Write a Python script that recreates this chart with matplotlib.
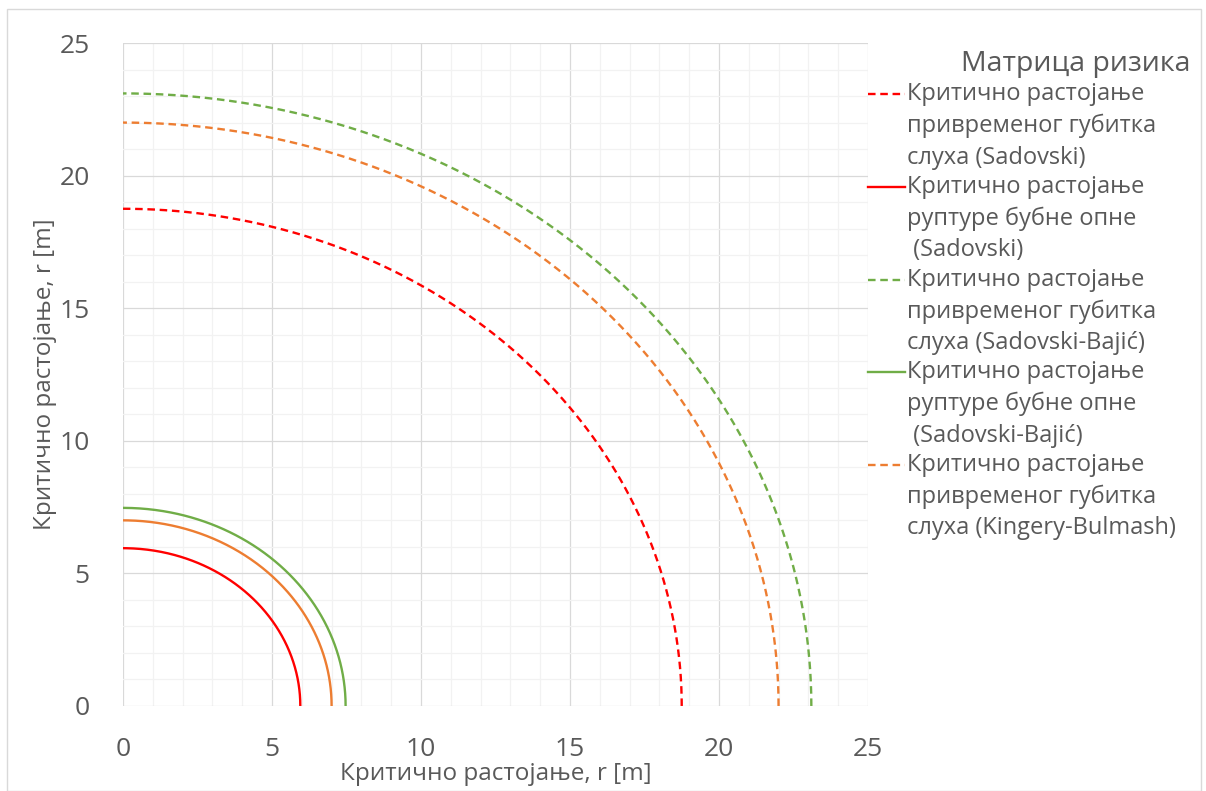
import numpy as np
import matplotlib
matplotlib.use("Agg")
import matplotlib.pyplot as plt
from matplotlib.lines import Line2D
from matplotlib.patches import Rectangle

plt.rcParams['font.family'] = ['Open Sans', 'DejaVu Sans']

# критична растојања [m]
radii = [18.75, 5.95, 23.1, 7.47, 22.0, 7.0]
colors = ['#FF0000', '#FF0000', '#70AD47', '#70AD47', '#ED7D31', '#ED7D31']
dashed = [True, False, True, False, True, False]
labels = [
    "Критично растојање\nпривременог губитка\nслуха (Sadovski)",
    "Критично растојање\nруптуре бубне опне\n (Sadovski)",
    "Критично растојање\nпривременог губитка\nслуха (Sadovski-Bajić)",
    "Критично растојање\nруптуре бубне опне\n (Sadovski-Bajić)",
    "Критично растојање\nпривременог губитка\nслуха (Kingery-Bulmash)",
    None,
]
ticks = [0, 5, 10, 15, 20, 25]
grey = '#595959'

fig = plt.figure(figsize=(12.06, 7.91), dpi=100)
fig.patches.append(Rectangle((0.006, 0.0), 0.99, 0.988, transform=fig.transFigure,
                             fill=False, edgecolor='#D9D9D9', linewidth=1))
ax = fig.add_axes([0.102, 0.1075, 0.6177, 0.8381])

phi = np.linspace(0, np.pi / 2, 400)
for r, c, d in zip(radii, colors, dashed):
    ls = (0, (3.2, 2)) if d else '-'
    ax.plot(r * np.cos(phi), r * np.sin(phi), color=c, lw=1.7, linestyle=ls)

ax.set_xlim(0, 25)
ax.set_ylim(0, 25)
ax.set_xticks(ticks)
ax.set_yticks(ticks)
ax.set_xticks(np.arange(0, 26, 1), minor=True)
ax.set_yticks(np.arange(0, 26, 1), minor=True)
ax.grid(True, which='major', color='#D9D9D9', lw=0.9)
ax.grid(True, which='minor', color='#F2F2F2', lw=0.9)
ax.set_axisbelow(True)
for s in ax.spines.values():
    s.set_visible(False)
ax.tick_params(which='both', length=0, labelsize=19, labelcolor=grey)
ax.tick_params(axis='x', pad=22)
ax.tick_params(axis='y', pad=24)
ax.set_xlabel("Критично растојање, r [m]", fontsize=17.5, color=grey, labelpad=0)
ax.set_ylabel("Критично растојање, r [m]", fontsize=17.5, color=grey, labelpad=2)

# легенда десно од графика
fig.text(0.987, 0.919, "Матрица ризика", fontsize=20.5, color=grey, ha='right', va='center')
y0 = 0.881
step = 0.1172
for i, (lab, c, d) in enumerate(zip(labels, colors, dashed)):
    if lab is None:
        continue
    y = y0 - i * step
    ls = (0, (3.2, 2)) if d else '-'
    fig.add_artist(Line2D([0.72, 0.75], [y, y], color=c, lw=1.7, linestyle=ls,
                          transform=fig.transFigure))
    fig.text(0.752, y + 0.015, lab, fontsize=17, color=grey, ha='left', va='top',
             linespacing=1.41)

fig.savefig("out.png", dpi=100)
